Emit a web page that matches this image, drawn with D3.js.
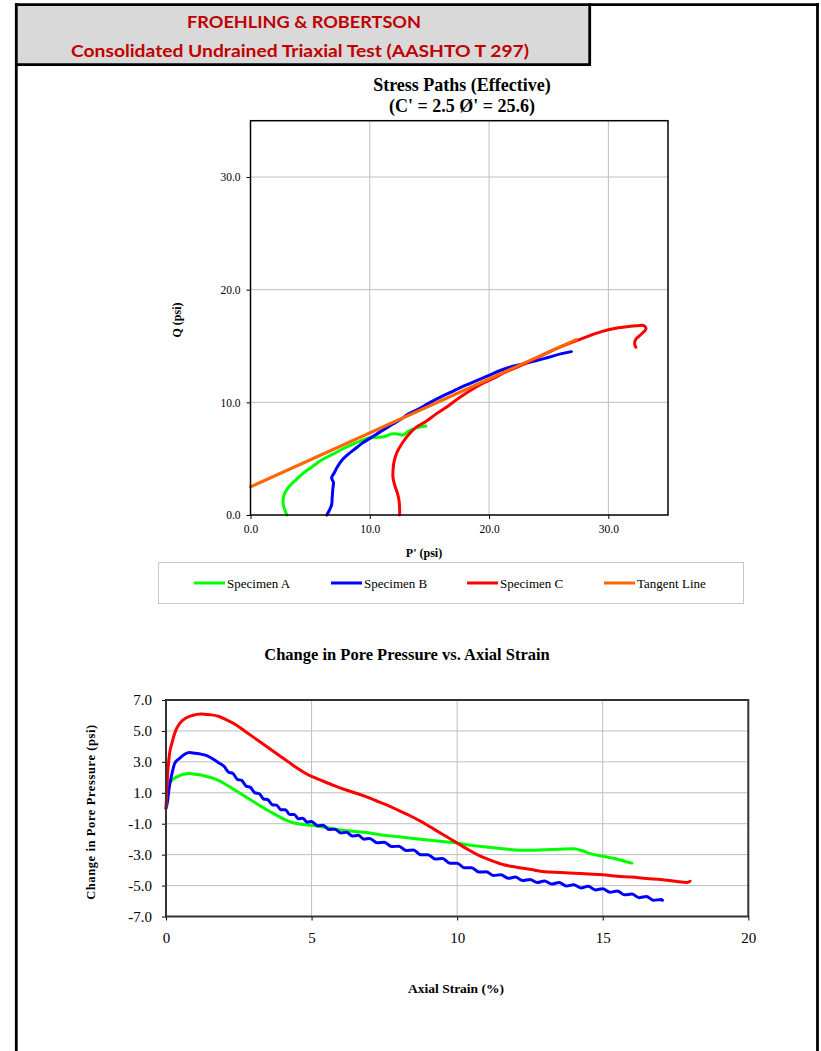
<!DOCTYPE html>
<html>
<head>
<meta charset="utf-8">
<script src="https://cdn.jsdelivr.net/npm/d3@7/dist/d3.min.js"></script>
<style>
body { margin: 0; background: #fff; }
</style>
</head>
<body>
<div id="screen"></div>
<script>
// ---- stress paths (P', Q) ----
var specimenA_P = [3.05, 2.9, 2.75, 2.75, 2.9, 3.3, 3.8, 4.4, 5.2, 6.0, 6.9, 7.8, 8.6, 9.3, 10.0, 10.6, 11.2, 11.8, 12.3, 12.8, 13.2, 13.7, 14.2, 14.7]
var specimenA_Q = [0, 0.4, 0.9, 1.5, 2.0, 2.6, 3.1, 3.7, 4.3, 4.9, 5.4, 5.9, 6.3, 6.6, 6.85, 6.9, 6.95, 7.2, 7.2, 7.1, 7.4, 7.65, 7.8, 7.9]

var specimenB_P = [6.4, 6.6, 6.8, 6.85, 6.9, 6.95, 6.8, 7.0, 7.3, 7.7, 8.2, 8.8, 9.4, 10.0, 10.6, 11.2, 11.9, 12.6, 13.3, 14.0, 15.0, 16.0, 17.0, 18.0, 19.0, 20.0, 21.0, 22.0, 23.0, 24.0, 25.0, 26.0, 26.9]
var specimenB_Q = [0, 0.4, 0.9, 1.6, 2.3, 2.9, 3.3, 3.7, 4.3, 4.9, 5.4, 5.9, 6.4, 6.8, 7.2, 7.6, 8.05, 8.5, 9.0, 9.35, 9.95, 10.5, 11.0, 11.5, 11.95, 12.4, 12.85, 13.2, 13.45, 13.7, 14.0, 14.3, 14.5]

var specimenC_P = [12.5, 12.5, 12.45, 12.3, 12.1, 11.95, 11.95, 12.05, 12.3, 12.8, 13.3, 13.9, 14.7, 15.6, 16.6, 17.5, 18.5, 19.5, 20.5, 21.5, 22.5, 23.5, 24.5, 25.5, 26.5, 27.5, 28.5, 29.5, 30.5, 31.5, 32.4, 33.0, 33.15, 32.9, 32.6, 32.3, 32.2, 32.3]
var specimenC_Q = [0, 0.6, 1.3, 2.0, 2.6, 3.3, 4.0, 4.8, 5.6, 6.5, 7.2, 7.8, 8.3, 9.0, 9.7, 10.4, 11.1, 11.7, 12.2, 12.75, 13.2, 13.7, 14.2, 14.7, 15.15, 15.55, 15.95, 16.3, 16.55, 16.7, 16.8, 16.8, 16.5, 16.2, 15.9, 15.6, 15.2, 14.9]

var tangent_P = [0, 27.3]
var tangent_Q = [2.5, 15.57]

// ---- pore pressure change vs axial strain ----
var poreA_strain = [0.12, 0.2, 0.3, 0.45, 0.6, 0.8, 1.0, 1.2, 1.4, 1.6, 1.8, 2.0, 2.3, 2.6, 2.9, 3.2, 3.5, 3.8, 4.1, 4.4, 4.7, 5.0, 5.5, 6.0, 6.5, 7.0, 7.5, 8.0, 8.5, 9.0, 9.5, 10.0, 10.5, 11.0, 11.5, 12.0, 12.5, 13.0, 13.5, 14.0, 14.3, 14.6, 15.0, 15.4, 15.8, 16.0]
var poreA_du = [1.65, 1.8, 1.95, 2.1, 2.2, 2.25, 2.2, 2.15, 2.05, 1.95, 1.8, 1.6, 1.25, 0.9, 0.55, 0.2, -0.15, -0.45, -0.75, -0.95, -1.05, -1.1, -1.25, -1.4, -1.5, -1.6, -1.75, -1.85, -1.95, -2.05, -2.15, -2.25, -2.4, -2.5, -2.6, -2.7, -2.72, -2.68, -2.65, -2.62, -2.75, -2.95, -3.1, -3.25, -3.45, -3.55]

// specimen B has the saw-tooth ripple, so peaks and dips are both listed
var poreB_strain = [0, 0.05, 0.1, 0.2, 0.3, 0.45, 0.6, 0.8, 1.0, 1.2, 1.4, 1.6, 1.8, 2.0, 2.15, 2.3, 2.45, 2.6, 2.75, 2.9, 3.05, 3.2, 3.35, 3.5, 3.65, 3.8, 3.95, 4.1, 4.25, 4.4, 4.55, 4.7, 4.85, 5.0, 5.2, 5.4, 5.6, 5.8, 6.0, 6.2, 6.4, 6.6, 6.8, 7.0, 7.25, 7.5, 7.75, 8.0, 8.25, 8.5, 8.75, 9.0, 9.25, 9.5, 9.75, 10.0, 10.25, 10.5, 10.75, 11.0, 11.25, 11.5, 11.75, 12.0, 12.25, 12.5, 12.75, 13.0, 13.25, 13.5, 13.75, 14.0, 14.25, 14.5, 14.75, 15.0, 15.25, 15.5, 15.75, 16.0, 16.25, 16.5, 16.75, 17.0, 17.05]
var poreB_du = [0, 0.4, 1.2, 2.2, 2.9, 3.2, 3.45, 3.6, 3.55, 3.5, 3.4, 3.2, 2.95, 2.7, 2.33, 2.25, 1.87, 1.8, 1.43, 1.35, 1.0, 0.95, 0.6, 0.55, 0.23, 0.2, -0.1, -0.1, -0.4, -0.4, -0.68, -0.65, -0.9, -0.85, -1.13, -1.1, -1.38, -1.35, -1.6, -1.55, -1.8, -1.75, -2.0, -1.95, -2.23, -2.2, -2.48, -2.45, -2.73, -2.7, -3.0, -3.0, -3.28, -3.25, -3.55, -3.55, -3.85, -3.85, -4.13, -4.1, -4.35, -4.3, -4.53, -4.45, -4.68, -4.6, -4.8, -4.7, -4.9, -4.8, -5.03, -4.95, -5.15, -5.05, -5.28, -5.2, -5.43, -5.35, -5.6, -5.55, -5.78, -5.7, -5.95, -5.9, -5.95]

var poreC_strain = [0, 0.05, 0.12, 0.2, 0.35, 0.5, 0.7, 0.9, 1.2, 1.5, 1.8, 2.1, 2.4, 2.7, 3.0, 3.3, 3.6, 3.9, 4.2, 4.5, 4.8, 5.2, 5.6, 6.0, 6.4, 6.8, 7.2, 7.6, 8.0, 8.4, 8.8, 9.2, 9.6, 10.0, 10.4, 10.8, 11.2, 11.6, 12.0, 12.5, 13.0, 13.5, 14.0, 14.5, 15.0, 15.5, 16.0, 16.5, 17.0, 17.5, 17.9, 18.0]
var poreC_du = [0, 2.0, 3.5, 4.2, 5.1, 5.55, 5.85, 6.0, 6.1, 6.05, 5.95, 5.7, 5.4, 5.0, 4.6, 4.2, 3.8, 3.4, 3.0, 2.6, 2.25, 1.9, 1.6, 1.3, 1.05, 0.8, 0.5, 0.2, -0.15, -0.5, -0.9, -1.35, -1.8, -2.25, -2.7, -3.1, -3.4, -3.65, -3.8, -3.95, -4.1, -4.15, -4.2, -4.25, -4.3, -4.4, -4.45, -4.55, -4.6, -4.72, -4.8, -4.72]

// ---- ticks and legend ----
var stressTicks = [0, 10, 20, 30]
var strainTicks = [0, 5, 10, 15, 20]
var poreTicks = [-7, -5, -3, -1, 1, 3, 5, 7]
var legendNames = ['Specimen A', 'Specimen B', 'Specimen C', 'Tangent Line']
var seriesColors = ['#00ff00', '#0000ff', '#ff0000', '#ff6600']

var serif = '"Liberation Serif", "Times New Roman", serif'

var svg = d3.select('#screen').append('svg')
    .attr('width', 821)
    .attr('height', 1051)

function zip(xs, ys) {
    return xs.map(function(x, i) { return [x, ys[i]] })
}

// plain hyphen minus like the spreadsheet, not d3's unicode minus
function oneDecimal(d) { return d.toFixed(1) }

function drawFrame() {
    svg.append('rect')
        .attr('x', 16).attr('y', 4)
        .attr('width', 574).attr('height', 61)
        .attr('fill', '#d9d9d9')

    var lines = [
        [15, 4.7, 819, 4.7],
        [16.3, 3.3, 16.3, 1051],
        [817.5, 3.3, 817.5, 1051],
        [589.7, 3.3, 589.7, 66],
        [15, 64.7, 591, 64.7]
    ]
    svg.selectAll('.frame').data(lines).enter().append('line')
        .attr('class', 'frame')
        .attr('x1', function(d) { return d[0] })
        .attr('y1', function(d) { return d[1] })
        .attr('x2', function(d) { return d[2] })
        .attr('y2', function(d) { return d[3] })
        .attr('stroke', '#000')
        .attr('stroke-width', 2.8)

    svg.append('text')
        .attr('x', 304).attr('y', 27.5)
        .attr('text-anchor', 'middle')
        .attr('textLength', 234).attr('lengthAdjust', 'spacingAndGlyphs')
        .style('font', 'bold 17px Lato, "Open Sans", sans-serif')
        .attr('fill', '#c00000')
        .text('FROEHLING & ROBERTSON')

    svg.append('text')
        .attr('x', 300).attr('y', 56.5)
        .attr('text-anchor', 'middle')
        .attr('textLength', 458).attr('lengthAdjust', 'spacingAndGlyphs')
        .style('font', 'bold 17px Lato, "Open Sans", sans-serif')
        .attr('fill', '#c00000')
        .text('Consolidated Undrained Triaxial Test (AASHTO T 297)')
}

function styleAxis(g, size) {
    g.select('.domain').remove()
    g.selectAll('.tick line').attr('stroke', '#000')
    g.selectAll('.tick text')
        .attr('fill', '#000')
        .style('font-family', serif)
        .style('font-size', size + 'px')
}

function drawStressChart() {
    var left = 250.5, right = 668, top = 120.7, bottom = 515
    var x = d3.scaleLinear().domain([0, 35]).range([left, right])
    var y = d3.scaleLinear().domain([0, 35]).range([bottom, top])
    var g = svg.append('g').attr('id', 'stress')

    g.selectAll('.gx').data(stressTicks.slice(1)).enter().append('line')
        .attr('x1', x).attr('x2', x).attr('y1', top).attr('y2', bottom)
        .attr('stroke', '#bfbfbf').attr('stroke-width', 1)
    g.selectAll('.gy').data(stressTicks.slice(1)).enter().append('line')
        .attr('y1', y).attr('y2', y).attr('x1', left).attr('x2', right)
        .attr('stroke', '#bfbfbf').attr('stroke-width', 1)

    g.append('g').attr('transform', 'translate(0,' + bottom + ')')
        .call(d3.axisBottom(x).tickValues(stressTicks).tickFormat(oneDecimal).tickSize(4).tickPadding(6))
        .call(styleAxis, 11.5)
    g.append('g').attr('transform', 'translate(' + left + ',0)')
        .call(d3.axisLeft(y).tickValues(stressTicks).tickFormat(oneDecimal).tickSize(4).tickPadding(6))
        .call(styleAxis, 11.5)

    var line = d3.line()
        .x(function(d) { return x(d[0]) })
        .y(function(d) { return y(d[1]) })
        .curve(d3.curveCatmullRom.alpha(0.5))

    var series = [zip(specimenA_P, specimenA_Q), zip(specimenB_P, specimenB_Q), zip(specimenC_P, specimenC_Q), zip(tangent_P, tangent_Q)]
    series.forEach(function(s, i) {
        g.append('path')
            .attr('d', line(s))
            .attr('fill', 'none')
            .attr('stroke', seriesColors[i])
            .attr('stroke-width', 3)
            .attr('stroke-linejoin', 'round')
            .attr('stroke-linecap', 'round')
    })

    g.append('rect')
        .attr('x', left).attr('y', top)
        .attr('width', right - left).attr('height', bottom - top)
        .attr('fill', 'none').attr('stroke', '#000').attr('stroke-width', 1.5)

    g.append('text').attr('x', 462).attr('y', 91)
        .attr('text-anchor', 'middle')
        .style('font', 'bold 18px ' + serif)
        .text('Stress Paths (Effective)')
    g.append('text').attr('x', 462).attr('y', 111.5)
        .attr('text-anchor', 'middle')
        .style('font', 'bold 18px ' + serif)
        .text("(C' = 2.5 Ø' = 25.6)")

    g.append('text')
        .attr('transform', 'translate(181,320) rotate(-90)')
        .attr('text-anchor', 'middle')
        .style('font', 'bold 12px ' + serif)
        .text('Q (psi)')
    g.append('text').attr('x', 424).attr('y', 557)
        .attr('text-anchor', 'middle')
        .style('font', 'bold 12px ' + serif)
        .text("P' (psi)")
}

function drawLegend() {
    var g = svg.append('g').attr('id', 'legend')
    g.append('rect')
        .attr('x', 158.5).attr('y', 562.5)
        .attr('width', 585).attr('height', 41)
        .attr('fill', '#fff').attr('stroke', '#c8c8c8').attr('stroke-width', 1)

    var starts = [194, 331, 467, 604]
    var item = g.selectAll('.item').data(legendNames).enter().append('g')
        .attr('transform', function(d, i) { return 'translate(' + starts[i] + ',583)' })
    item.append('line')
        .attr('x1', 0).attr('x2', 31).attr('y1', 0).attr('y2', 0)
        .attr('stroke', function(d, i) { return seriesColors[i] })
        .attr('stroke-width', 3)
    item.append('text')
        .attr('x', 33).attr('y', 4.5)
        .style('font', '13px ' + serif)
        .text(function(d) { return d })
}

function drawPoreChart() {
    var left = 166, right = 748.3, top = 700, bottom = 916.5
    var x = d3.scaleLinear().domain([0, 20]).range([left, right])
    var y = d3.scaleLinear().domain([-7, 7]).range([bottom, top])
    var g = svg.append('g').attr('id', 'pore')

    g.selectAll('.gx').data(strainTicks.slice(1, -1)).enter().append('line')
        .attr('x1', x).attr('x2', x).attr('y1', top).attr('y2', bottom)
        .attr('stroke', '#bfbfbf').attr('stroke-width', 1)
    g.selectAll('.gy').data(poreTicks.slice(1, -1)).enter().append('line')
        .attr('y1', y).attr('y2', y).attr('x1', left).attr('x2', right)
        .attr('stroke', '#bfbfbf').attr('stroke-width', 1)

    g.append('g').attr('transform', 'translate(0,' + bottom + ')')
        .call(d3.axisBottom(x).tickValues(strainTicks).tickFormat(d3.format('d')).tickSize(4).tickPadding(12))
        .call(styleAxis, 15)
    g.append('g').attr('transform', 'translate(' + left + ',0)')
        .call(d3.axisLeft(y).tickValues(poreTicks).tickFormat(oneDecimal).tickSize(4).tickPadding(10))
        .call(styleAxis, 15)

    var line = d3.line()
        .x(function(d) { return x(d[0]) })
        .y(function(d) { return y(d[1]) })
        .curve(d3.curveMonotoneX)

    var series = [zip(poreA_strain, poreA_du), zip(poreB_strain, poreB_du), zip(poreC_strain, poreC_du)]
    series.forEach(function(s, i) {
        g.append('path')
            .attr('d', line(s))
            .attr('fill', 'none')
            .attr('stroke', seriesColors[i])
            .attr('stroke-width', 3)
            .attr('stroke-linejoin', 'round')
            .attr('stroke-linecap', 'round')
    })

    g.append('rect')
        .attr('x', left).attr('y', top)
        .attr('width', right - left).attr('height', bottom - top)
        .attr('fill', 'none').attr('stroke', '#333').attr('stroke-width', 2)

    g.append('text').attr('x', 407).attr('y', 660)
        .attr('text-anchor', 'middle')
        .style('font', 'bold 16.5px ' + serif)
        .text('Change in Pore Pressure vs. Axial Strain')

    g.append('text')
        .attr('transform', 'translate(95,812) rotate(-90)')
        .attr('text-anchor', 'middle')
        .style('font', 'bold 12.5px ' + serif)
        .style('letter-spacing', '0.6px')
        .text('Change in Pore Pressure (psi)')
    g.append('text').attr('x', 456).attr('y', 993)
        .attr('text-anchor', 'middle')
        .style('font', 'bold 13.5px ' + serif)
        .text('Axial Strain (%)')
}

drawFrame()
drawStressChart()
drawLegend()
drawPoreChart()
</script>
</body>
</html>
